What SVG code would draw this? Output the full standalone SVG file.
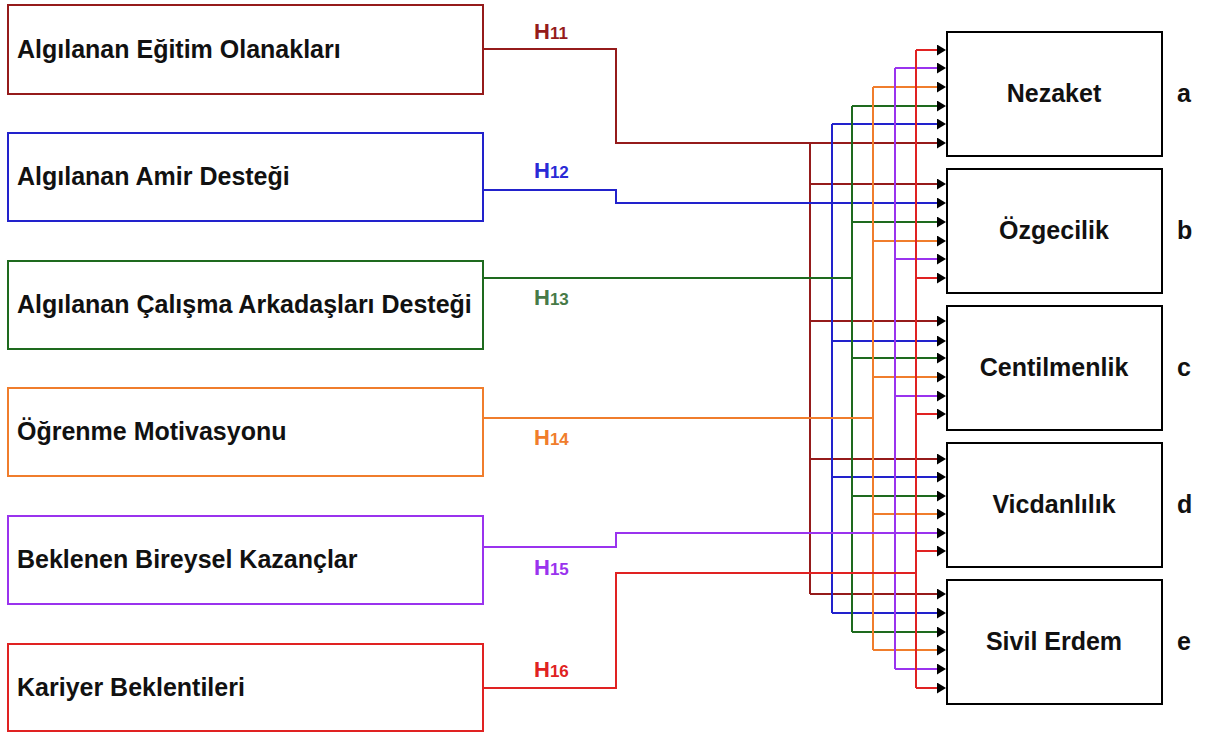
<svg xmlns="http://www.w3.org/2000/svg" width="1206" height="733" viewBox="0 0 1206 733">
<defs>
<marker id="ah" markerUnits="userSpaceOnUse" viewBox="0 0 9 11" refX="0" refY="5.5" markerWidth="9" markerHeight="11" orient="auto"><path d="M0,0 L9,5.5 L0,11 z" fill="#000"/></marker>
<style>
.src{fill:#fff;stroke-width:2}
.dst{fill:#fff;stroke:#000;stroke-width:2}
.t{font-family:"Liberation Sans",Arial,sans-serif;font-weight:bold;font-size:25px;fill:#111}
.h{font-family:"Liberation Sans",Arial,sans-serif;font-weight:bold;font-size:22px}
.h tspan{font-size:17px}
.c{fill:none;stroke-width:2}
.a{marker-end:url(#ah)}
.dr{stroke:#951b1b}.bl{stroke:#2222cc}.gr{stroke:#1e6a1e}.or{stroke:#f07d2c}.pu{stroke:#9a33ee}.rd{stroke:#e02222}
</style>
</defs>
<rect width="1206" height="733" fill="#fff"/>
<g id="connectors">
<g class="c dr"><path class="a" d="M483,49 H616 V143 H937"/><path d="M810,143 V594"/><path class="a" d="M810,184 H937"/><path class="a" d="M810,321 H937"/><path class="a" d="M810,459 H937"/><path class="a" d="M810,594 H937"/></g>
<g class="c bl"><path class="a" d="M483,190 H616 V203 H937"/><path d="M832,124 V613"/><path class="a" d="M832,124 H937"/><path class="a" d="M832,341 H937"/><path class="a" d="M832,477 H937"/><path class="a" d="M832,613 H937"/></g>
<g class="c gr"><path d="M483,278 H852"/><path d="M852,106 V632"/><path class="a" d="M852,106 H937"/><path class="a" d="M852,222 H937"/><path class="a" d="M852,358 H937"/><path class="a" d="M852,496 H937"/><path class="a" d="M852,632 H937"/></g>
<g class="c or"><path d="M483,418 H873"/><path d="M873,87 V650"/><path class="a" d="M873,87 H937"/><path class="a" d="M873,241 H937"/><path class="a" d="M873,377 H937"/><path class="a" d="M873,514 H937"/><path class="a" d="M873,650 H937"/></g>
<g class="c pu"><path class="a" d="M483,547 H616 V533 H937"/><path d="M895,68 V669"/><path class="a" d="M895,68 H937"/><path class="a" d="M895,259 H937"/><path class="a" d="M895,396 H937"/><path class="a" d="M895,669 H937"/></g>
<g class="c rd"><path d="M483,688 H616 V573 H916"/><path d="M916,50 V688"/><path class="a" d="M916,50 H937"/><path class="a" d="M916,278 H937"/><path class="a" d="M916,414 H937"/><path class="a" d="M916,551 H937"/><path class="a" d="M916,688 H937"/></g>
<text class="h" x="534" y="39" fill="#951b1b">H<tspan>11</tspan></text>
<text class="h" x="534" y="178" fill="#2a2ad6">H<tspan>12</tspan></text>
<text class="h" x="534" y="305" fill="#477a47">H<tspan>13</tspan></text>
<text class="h" x="534" y="445" fill="#f07d2c">H<tspan>14</tspan></text>
<text class="h" x="534" y="575" fill="#9a33ee">H<tspan>15</tspan></text>
<text class="h" x="534" y="677" fill="#e02222">H<tspan>16</tspan></text>
</g>
<g id="n1"><rect class="src" x="8" y="5" width="475" height="89" stroke="#951b1b"/><text class="t" x="17" y="58">Algılanan Eğitim Olanakları</text></g>
<g id="n2"><rect class="src" x="8" y="133" width="475" height="88" stroke="#2222cc"/><text class="t" x="17" y="185">Algılanan Amir Desteği</text></g>
<g id="n3"><rect class="src" x="8" y="261" width="475" height="88" stroke="#1e6a1e"/><text class="t" x="17" y="313">Algılanan Çalışma Arkadaşları Desteği</text></g>
<g id="n4"><rect class="src" x="8" y="388" width="475" height="88" stroke="#f07d2c"/><text class="t" x="17" y="440">Öğrenme Motivasyonu</text></g>
<g id="n5"><rect class="src" x="8" y="516" width="475" height="88" stroke="#9a33ee"/><text class="t" x="17" y="568">Beklenen Bireysel Kazançlar</text></g>
<g id="n6"><rect class="src" x="8" y="644" width="475" height="87" stroke="#e02222"/><text class="t" x="17" y="696">Kariyer Beklentileri</text></g>
<g id="a"><rect class="dst" x="947" y="32" width="215" height="124"/><text class="t" x="1054" y="102" text-anchor="middle">Nezaket</text><text class="t" x="1177" y="102">a</text></g>
<g id="b"><rect class="dst" x="947" y="169" width="215" height="124"/><text class="t" x="1054" y="239" text-anchor="middle">Özgecilik</text><text class="t" x="1177" y="239">b</text></g>
<g id="c"><rect class="dst" x="947" y="306" width="215" height="124"/><text class="t" x="1054" y="376" text-anchor="middle">Centilmenlik</text><text class="t" x="1177" y="376">c</text></g>
<g id="d"><rect class="dst" x="947" y="443" width="215" height="124"/><text class="t" x="1054" y="513" text-anchor="middle">Vicdanlılık</text><text class="t" x="1177" y="513">d</text></g>
<g id="e"><rect class="dst" x="947" y="580" width="215" height="124"/><text class="t" x="1054" y="650" text-anchor="middle">Sivil Erdem</text><text class="t" x="1177" y="650">e</text></g>
</svg>
